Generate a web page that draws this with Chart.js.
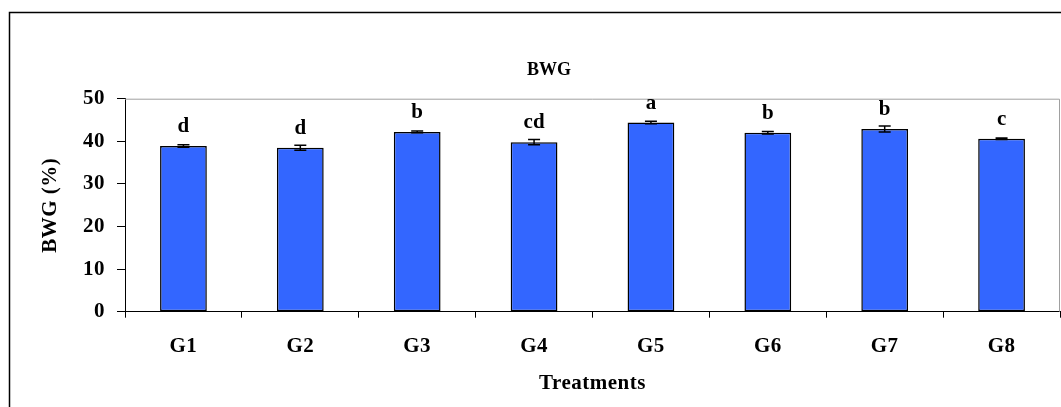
<!DOCTYPE html>
<html>
<head>
<meta charset="utf-8">
<script src="https://cdn.jsdelivr.net/npm/chart.js"></script>
<style>
  body { margin: 0; background: #fff; }
  #wrap { width: 1061px; height: 407px; }
</style>
</head>
<body>
<div id="wrap"><canvas id="myChart"></canvas></div>
<script>
const labels = ['G1', 'G2', 'G3', 'G4', 'G5', 'G6', 'G7', 'G8'];
const bwg = [38.9, 38.5, 42.2, 39.8, 44.4, 42.0, 42.9, 40.6];
const errores = [0.3, 0.6, 0.2, 0.6, 0.3, 0.3, 0.7, 0.2];
const letras = ['d', 'd', 'b', 'cd', 'a', 'b', 'b', 'c'];
const yTicks = [0, 10, 20, 30, 40, 50];

const fuente = 'Liberation Serif, Times New Roman, serif';

// marco, titulo, barras de error y letras
const extras = {
  id: 'extras',
  beforeDraw(chart) {
    // el texto del original sale algo estirado
    chart.ctx.letterSpacing = '0.5px';
  },
  beforeDatasetsDraw(chart) {
    const ctx = chart.ctx;
    const a = chart.chartArea;
    ctx.save();
    ctx.strokeStyle = '#a0a0a0';
    ctx.lineWidth = 1;
    ctx.beginPath();
    ctx.moveTo(a.left, a.top + 0.5);
    ctx.lineTo(a.right - 0.5, a.top + 0.5);
    ctx.lineTo(a.right - 0.5, a.bottom);
    ctx.stroke();
    ctx.restore();
  },
  afterDraw(chart) {
    const ctx = chart.ctx;
    const y = chart.scales.y;
    const meta = chart.getDatasetMeta(0);
    ctx.save();
    ctx.strokeStyle = '#000';
    ctx.lineWidth = 1.5;
    ctx.beginPath();
    ctx.moveTo(9.5, 407);
    ctx.lineTo(9.5, 12.5);
    ctx.lineTo(1061, 12.5);
    ctx.stroke();

    ctx.fillStyle = '#000';
    ctx.letterSpacing = '0px';
    ctx.font = 'bold 18px ' + fuente;
    ctx.textAlign = 'center';
    ctx.textBaseline = 'middle';
    ctx.fillText('BWG', 549, 70);

    meta.data.forEach((bar, i) => {
      const x = bar.x;
      const top = y.getPixelForValue(bwg[i] + errores[i]);
      const bot = y.getPixelForValue(bwg[i] - errores[i]);
      ctx.lineWidth = 1.5;
      ctx.beginPath();
      ctx.moveTo(x, top); ctx.lineTo(x, bot);
      ctx.moveTo(x - 6, top); ctx.lineTo(x + 6, top);
      ctx.moveTo(x - 6, bot); ctx.lineTo(x + 6, bot);
      ctx.stroke();

      ctx.font = 'bold 21px ' + fuente;
      ctx.textBaseline = 'alphabetic';
      ctx.fillText(letras[i], x, y.getPixelForValue(bwg[i]) - 14);
    });
    ctx.restore();
  }
};

const data = {
  labels: labels,
  datasets: [{
    label: 'BWG',
    data: bwg,
    backgroundColor: '#3366ff',
    borderColor: '#000',
    borderWidth: 1.5,
    borderSkipped: false,
    categoryPercentage: 1,
    barPercentage: 0.4
  }]
};

const config = {
  type: 'bar',
  data: data,
  options: {
    responsive: true,
    maintainAspectRatio: false,
    animation: false,
    layout: { padding: { top: 98.7, right: 1, bottom: 0, left: 0 } },
    plugins: {
      legend: { display: false },
      tooltip: { enabled: false }
    },
    scales: {
      x: {
        afterFit: (s) => { s.height = 95.3; },
        grid: { offset: true, drawOnChartArea: false, drawTicks: true, tickLength: 6, color: '#000' },
        border: { color: '#000', width: 1 },
        ticks: { color: '#000', padding: 16, font: { family: fuente, size: 21, weight: 'bold' } },
        title: {
          display: true, text: 'Treatments', color: '#000',
          font: { family: fuente, size: 21, weight: 'bold' },
          padding: { top: 0, bottom: 11 }
        }
      },
      y: {
        min: 0, max: 50,
        afterFit: (s) => { s.width = 125; },
        afterBuildTicks: (s) => { s.ticks = yTicks.map(v => ({ value: v })); },
        grid: { drawOnChartArea: false, drawTicks: true, tickLength: 8, color: '#000' },
        border: { color: '#000', width: 1 },
        ticks: { color: '#000', padding: 12, font: { family: fuente, size: 21, weight: 'bold' } },
        title: {
          display: true, text: 'BWG (%)', color: '#000',
          font: { family: fuente, size: 21, weight: 'bold' },
          padding: { top: 38, bottom: 0 }
        }
      }
    }
  },
  plugins: [extras]
};

let myChart = new Chart(document.getElementById('myChart'), config);
</script>
</body>
</html>
